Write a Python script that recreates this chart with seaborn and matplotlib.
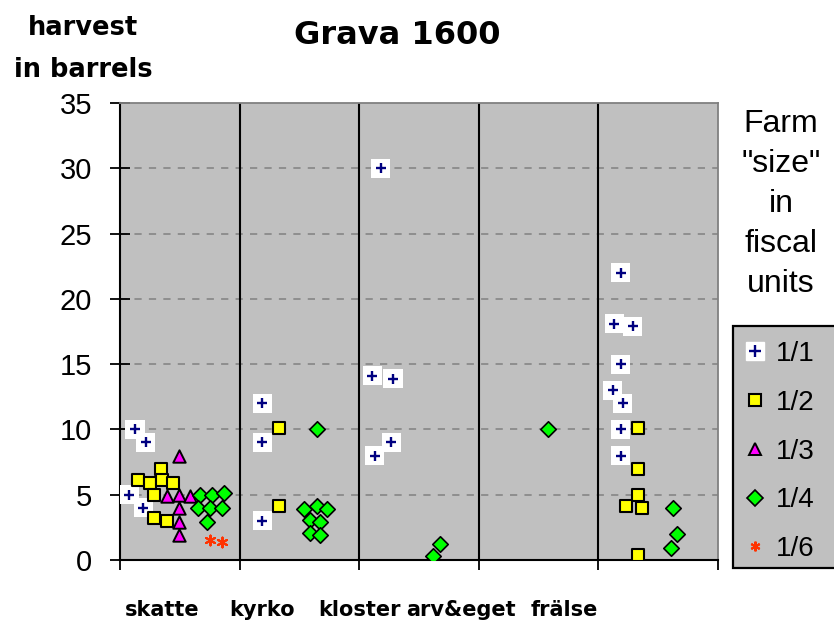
import matplotlib
matplotlib.use("Agg")
import matplotlib.pyplot as plt
import seaborn as sns
from matplotlib.lines import Line2D
from matplotlib.patches import Rectangle

# categories (ownership) along x, each one unit wide
categories = ["skatte", "kyrko", "kloster", "arv&eget", "frälse"]
label_centers_px = [162, 262, 359, 461, 564]

# farm size 1/1
pos_1_1 = [0.125, 0.214, 0.078, 0.194, 1.189, 1.189, 1.189,
           2.18, 2.111, 2.283, 2.269, 2.131,
           4.186, 4.133, 4.286, 4.186, 4.119, 4.203, 4.186, 4.186]
harvest_1_1 = [10, 9, 5, 4, 12, 9, 3,
               30, 14.1, 13.9, 9, 8,
               22, 18.1, 17.9, 15, 13, 12, 10, 8]

# farm size 1/2
pos_1_2 = [0.339, 0.153, 0.25, 0.353, 0.439, 0.286, 0.286, 0.389,
           1.333, 1.333,
           4.328, 4.328, 4.328, 4.231, 4.361, 4.328]
harvest_1_2 = [7, 6.1, 5.9, 6.1, 5.9, 5, 3.2, 3,
               10.1, 4.1,
               10.1, 7, 5, 4.1, 4, 0.4]

# farm size 1/3
pos_1_3 = [0.494, 0.397, 0.494, 0.583, 0.494, 0.494, 0.494]
harvest_1_3 = [8, 4.9, 5, 4.9, 4, 2.9, 1.9]

# farm size 1/4
pos_1_4 = [0.667, 0.769, 0.869, 0.653, 0.75, 0.853, 0.731,
           1.644, 1.542, 1.644, 1.731, 1.592, 1.669, 1.592, 1.669,
           2.672, 2.617, 3.575,
           4.625, 4.658, 4.606]
harvest_1_4 = [5, 5, 5.1, 4, 4, 4, 2.9,
               10, 3.9, 4.1, 3.9, 3.1, 2.9, 2.1, 1.9,
               1.2, 0.3, 10,
               4, 2, 0.9]

# farm size 1/6
pos_1_6 = [0.75, 0.853]
harvest_1_6 = [1.5, 1.4]

size_labels = ["1/1", "1/2", "1/3", "1/4", "1/6"]
y_ticks = [0, 5, 10, 15, 20, 25, 30, 35]

W, H = 834, 622
fig = plt.figure(figsize=(W / 100, H / 100), dpi=100)
ax = fig.add_axes([120 / W, 1 - 560 / H, 598 / W, 457 / H])
ax.set_facecolor("#c0c0c0")

bold = dict(family="DejaVu Sans", weight="bold", color="black")
plain = dict(family="Liberation Sans", color="black")

# grid + category separators
for v in y_ticks[1:-1]:
    ax.axhline(v, color="#8a8a8a", lw=1.3, dashes=(4, 4), zorder=1)
for b in range(1, len(categories)):
    ax.axvline(b, color="black", lw=1.5, zorder=1)

# points
sns.scatterplot(x=pos_1_1, y=harvest_1_1, marker="s", s=190, color="white",
                edgecolor="none", linewidth=0, ax=ax, zorder=3, legend=False)
sns.scatterplot(x=pos_1_1, y=harvest_1_1, marker="+", s=60, color="#000080",
                linewidth=1.7, ax=ax, zorder=4, legend=False)
sns.scatterplot(x=pos_1_2, y=harvest_1_2, marker="s", s=75, color="#ffff00",
                edgecolor="black", linewidth=1.5, ax=ax, zorder=3, legend=False)
sns.scatterplot(x=pos_1_3, y=harvest_1_3, marker="^", s=80, color="#ff00ff",
                edgecolor="black", linewidth=1.4, ax=ax, zorder=3, legend=False)
sns.scatterplot(x=pos_1_4, y=harvest_1_4, marker="D", s=62, color="#00ff00",
                edgecolor="black", linewidth=1.2, ax=ax, zorder=3, legend=False)
sns.scatterplot(x=pos_1_6, y=harvest_1_6, marker=(6, 2, 0), s=50, color="#ff3300",
                linewidth=1.5, ax=ax, zorder=3, legend=False)

ax.set_xlim(0, len(categories))
ax.set_ylim(y_ticks[0], y_ticks[-1])
ax.set_xticks(range(len(categories) + 1))
ax.set_xticklabels([])
ax.set_yticks(y_ticks)
ax.set_yticklabels([str(v) for v in y_ticks], fontsize=21, **plain)
ax.tick_params(axis="y", direction="inout", length=14, width=1.3, pad=13)
ax.tick_params(axis="x", direction="out", length=7, width=1.3)
for side in ["left", "bottom"]:
    ax.spines[side].set_color("black")
    ax.spines[side].set_linewidth(1.5)
for side in ["top", "right"]:
    ax.spines[side].set_color("#808080")
    ax.spines[side].set_linewidth(1.3)

# category labels
for name, cx in zip(categories, label_centers_px):
    fig.text(cx / W, 1 - 616 / H, name, ha="center", va="baseline", fontsize=15, **bold)

fig.text(397 / W, 1 - 44 / H, "Grava 1600", ha="center", va="baseline", fontsize=23, **bold)
fig.text(83 / W, 1 - 35 / H, "harvest", ha="center", va="baseline", fontsize=18.5, **bold)
fig.text(83 / W, 1 - 77 / H, "in barrels", ha="center", va="baseline", fontsize=18.5, **bold)
fig.text(781 / W, 1 - 204 / H, 'Farm\n"size"\nin\nfiscal\nunits', ha="center", va="center",
         multialignment="center", linespacing=1.44, fontsize=23, **plain)

# legend box
fig.patches.append(Rectangle((733 / W, 1 - 568 / H), 110 / W, 242 / H,
                             transform=fig.transFigure, facecolor="#c0c0c0",
                             edgecolor="black", linewidth=1.6, zorder=0))
handles = [
    (Line2D([], [], marker="s", ms=13, color="white", ls=""),
     Line2D([], [], marker="+", ms=8, mew=1.7, color="#000080", ls="")),
    Line2D([], [], marker="s", ms=8.5, mfc="#ffff00", mec="black", mew=1.5, ls=""),
    Line2D([], [], marker="^", ms=8.8, mfc="#ff00ff", mec="black", mew=1.4, ls=""),
    Line2D([], [], marker="D", ms=7.8, mfc="#00ff00", mec="black", mew=1.2, ls=""),
    Line2D([], [], marker=(6, 2, 0), ms=7, color="#ff3300", mew=1.5, ls=""),
]
leg = fig.legend(handles, size_labels, loc="upper left",
                 bbox_to_anchor=(741 / W, 1 - 341 / H), frameon=False,
                 prop={"family": "Liberation Sans", "size": 20},
                 handlelength=1.0, handletextpad=0.25, labelspacing=0.82,
                 borderpad=0.0, borderaxespad=0.0)

fig.savefig("out.png", dpi=100)
